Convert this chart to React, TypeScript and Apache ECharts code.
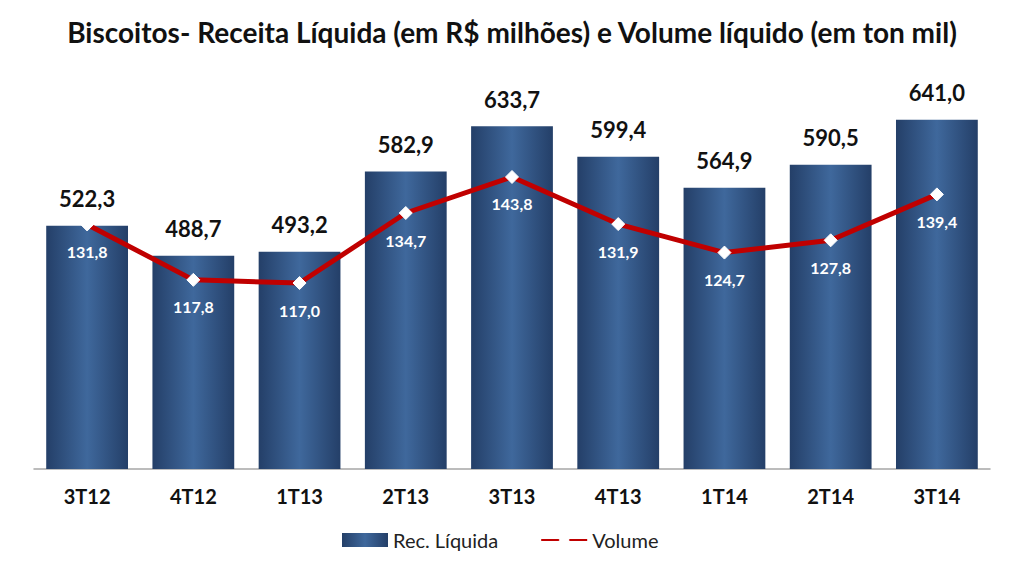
import React, { useEffect, useRef } from "react";
import * as echarts from "echarts";

const categories = ["3T12", "4T12", "1T13", "2T13", "3T13", "4T13", "1T14", "2T14", "3T14"];
const receita = [522.3, 488.7, 493.2, 582.9, 633.7, 599.4, 564.9, 590.5, 641.0];
const volume = [131.8, 117.8, 117.0, 134.7, 143.8, 131.9, 124.7, 127.8, 139.4];

const fmt = (v: number) => v.toFixed(1).replace(".", ",");
const FONT = "Lato, 'Open Sans', sans-serif";

export default function App() {
  const ref = useRef<HTMLDivElement>(null);
  useEffect(() => {
    if (!ref.current) return;
    const chart = echarts.init(ref.current, undefined, { renderer: "svg" });
    const barGrad = new echarts.graphic.LinearGradient(0, 0, 1, 0, [
      { offset: 0, color: "#243f68" },
      { offset: 0.5, color: "#3f689c" },
      { offset: 1, color: "#243f68" },
    ]);
    chart.setOption({
      animation: false,
      backgroundColor: "#ffffff",
      textStyle: { fontFamily: FONT },
      title: {
        text: "Biscoitos- Receita Líquida (em R$ milhões) e Volume líquido (em ton mil)",
        left: "center",
        top: 13,
        textStyle: { fontFamily: FONT, fontWeight: "bold", fontSize: 28, color: "#111111" },
      },
      legend: {
        bottom: 7,
        left: 337,
        itemGap: 42,
        itemWidth: 46,
        itemHeight: 14,
        textStyle: { fontFamily: FONT, fontSize: 20, color: "#222222" },
        data: [
          { name: "Rec. Líquida", icon: "rect" },
          { name: "Volume" },
        ],
      },
      grid: { left: 34, right: 34, top: 67, bottom: 93, containLabel: false },
      xAxis: {
        type: "category",
        data: categories,
        axisTick: { show: false },
        axisLine: { lineStyle: { color: "#a6a6a6", width: 1.5 } },
        axisLabel: { margin: 17, fontFamily: FONT, fontWeight: "bold", fontSize: 20, color: "#111111" },
      },
      yAxis: [
        { type: "value", min: 250, max: 700, show: false, splitLine: { show: false } },
        { type: "value", min: 70, max: 171.6, show: false, splitLine: { show: false } },
      ],
      series: [
        {
          name: "Rec. Líquida",
          type: "bar",
          yAxisIndex: 0,
          data: receita,
          barCategoryGap: "23%",
          itemStyle: { color: barGrad },
          label: {
            show: true,
            position: "top",
            distance: 16,
            formatter: (p: any) => fmt(p.value),
            fontFamily: FONT,
            fontWeight: "bold",
            fontSize: 22,
            color: "#111111",
          },
        },
        {
          name: "Volume",
          type: "line",
          yAxisIndex: 1,
          data: volume,
          symbol: "diamond",
          symbolSize: 13,
          itemStyle: { color: "#ffffff", borderColor: "#ffffff" },
          lineStyle: { color: "#c00000", width: 5 },
          label: {
            show: true,
            position: "bottom",
            distance: 12,
            formatter: (p: any) => fmt(p.value),
            fontFamily: FONT,
            fontWeight: "bold",
            fontSize: 16,
            color: "#ffffff",
          },
          z: 3,
        },
      ],
    });
    return () => chart.dispose();
  }, []);
  return <div ref={ref} style={{ width: 1024, height: 562, position: "absolute", left: 0, top: 0 }} />;
}
